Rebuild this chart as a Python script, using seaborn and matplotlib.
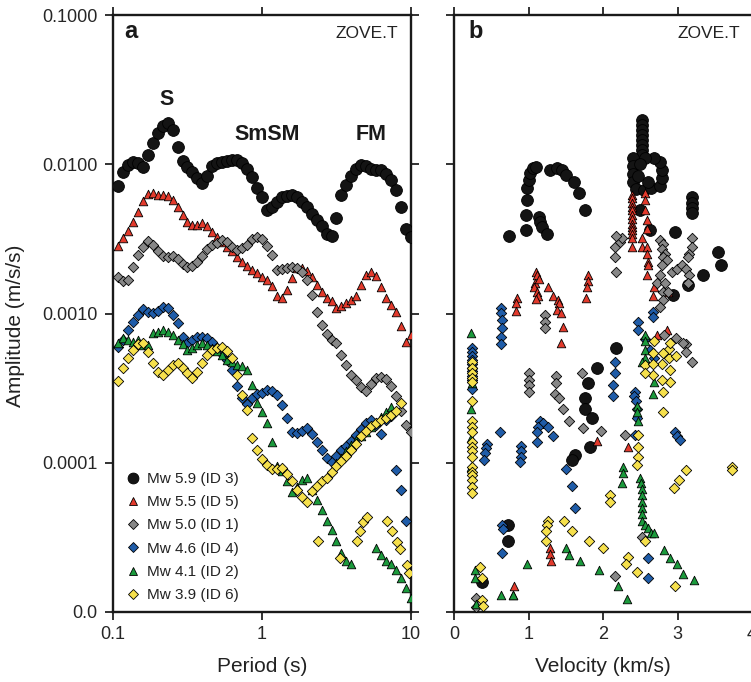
import numpy as np
import pandas as pd
import matplotlib
matplotlib.use("Agg")
import matplotlib.pyplot as plt
from matplotlib.lines import Line2D
from matplotlib.ticker import NullLocator
import seaborn as sns

nan = np.nan

# ---------------------------------------------------------------------------
# Panel a: peak amplitude against filter period (s), station ZOVE.T
# ---------------------------------------------------------------------------
period_s = [0.108, 0.117, 0.126, 0.136, 0.147, 0.158, 0.171, 0.185, 0.200, 0.215,
            0.233, 0.251, 0.271, 0.293, 0.316, 0.341, 0.369, 0.398, 0.430, 0.464,
            0.501, 0.541, 0.585, 0.631, 0.681, 0.736, 0.794, 0.858, 0.926, 1.00,
            1.08, 1.17, 1.26, 1.36, 1.47, 1.58, 1.71, 1.85, 2.00, 2.15,
            2.33, 2.51, 2.71, 2.93, 3.16, 3.41, 3.69, 3.98, 4.30, 4.64,
            5.01, 5.41, 5.85, 6.31, 6.81, 7.36, 7.94, 8.58, 9.26, 10.0]

amp_mw59 = [0.00713, 0.00888, 0.0099, 0.0104, 0.0102, 0.0096, 0.0116, 0.0139, 0.0162, 0.0181,
            0.0189, 0.0170, 0.0131, 0.0105, 0.0096, 0.00888, 0.0081, 0.0075, 0.00835, 0.00974,
            0.0102, 0.0104, 0.0105, 0.0107, 0.0107, 0.0102, 0.0093, 0.0082, 0.0069, 0.0060,
            0.0049, 0.0052, 0.0056, 0.0060, 0.0061, 0.0062, 0.0060, 0.0056, 0.0052, 0.00465,
            0.00424, 0.00386, 0.00342, 0.00331, 0.00437, 0.0062, 0.00727, 0.00835, 0.0093, 0.0099,
            0.0097, 0.0093, 0.0092, 0.0092, 0.0086, 0.00785, 0.0067, 0.0052, 0.00369, 0.00326]

amp_mw55 = [0.00284, 0.00321, 0.00357, 0.0041, 0.00479, 0.00568, 0.00633, 0.00642, 0.0062, 0.0062,
            0.0061, 0.00577, 0.0052, 0.00457, 0.0041, 0.00392, 0.00392, 0.00404, 0.00386, 0.00352,
            0.00326, 0.00302, 0.0028, 0.00262, 0.0024, 0.00222, 0.00208, 0.00196, 0.00187, 0.00176,
            0.00168, 0.00153, 0.00131, 0.00127, 0.00144, 0.00173, 0.00202, 0.00202, 0.00193, 0.00176,
            0.00155, 0.0014, 0.00127, 0.00122, 0.00109, 0.00112, 0.00118, 0.00124, 0.00131, 0.00155,
            0.00181, 0.0019, 0.00179, 0.00151, 0.00127, 0.00114, 0.00103, 0.000826, 0.000645, 0.000719]

amp_mw50 = [0.00176, 0.00165, 0.00168, 0.00205, 0.00247, 0.0028, 0.00306, 0.00288, 0.00262, 0.00243,
            0.0024, 0.00243, 0.00232, 0.00215, 0.00205, 0.00208, 0.00222, 0.00243, 0.00271, 0.00288,
            0.00297, 0.00311, 0.00302, 0.0028, 0.00267, 0.00275, 0.00288, 0.00316, 0.00326, 0.00316,
            0.00284, 0.00247, 0.00196, 0.00199, 0.00202, 0.00205, 0.00202, 0.0019, 0.00168, 0.00133,
            0.00103, 0.00084, 0.00073, 0.000666, 0.000635, 0.000528, 0.000452, 0.000388, 0.000359, 0.000322,
            0.000303, 0.000338, 0.00037, 0.000376, 0.000365, 0.000327, 0.000281, 0.000223, 0.000179, 0.000161]

amp_mw46 = [0.000597, 0.000666, 0.000777, 0.000879, 0.000979, 0.00108, 0.00103, 0.00101, 0.00104, 0.00111,
            0.00109, 0.000979, 0.000865, 0.000697, 0.000635, 0.000666, 0.000697, 0.000697, 0.000686, 0.000645,
            0.000588, 0.000536, 0.000489, 0.000419, 0.000327, 0.000272, 0.000248, 0.000272, 0.00029, 0.000294,
            0.000308, 0.000303, 0.000285, 0.000244, 0.0002, 0.000161, 0.000159, 0.000164, 0.000171, 0.000156,
            0.000138, 0.000122, 0.000108, 0.000101, 0.000111, 0.000122, 0.00013, 0.00014, 0.000154, 0.000169,
            0.000185, 0.000194, 0.000179, 0.000156, 0.000194, 0.000206, 8.96e-5, 6.6e-5, 4.1e-5, nan]

amp_mw41 = [0.000635, 0.000686, 0.000666, 0.000645, 0.000666, 0.000616, 0.000616, 0.000741, 0.000753, 0.000777,
            0.000753, 0.000719, 0.000666, 0.000626, 0.00057, 0.000588, 0.000616, 0.000635, 0.000616, 0.000588,
            0.000562, 0.000528, 0.000489, 0.000474, 0.000452, 0.000445, 0.000419, 0.000332, 0.000252, 0.000219,
            0.000185, 0.000138, 9.5e-5, 8.8e-5, 7.5e-5, 6.4e-5, 6.9e-5, 7.7e-5, 7.9e-5, 6.6e-5,
            5.6e-5, 4.8e-5, 4.1e-5, 3.55e-5, 3.0e-5, 2.5e-5, 2.2e-5, 2.1e-5, nan, nan,
            nan, nan, 2.7e-5, 2.4e-5, 2.2e-5, 2.1e-5, 1.9e-5, 1.7e-5, 1.45e-5, 1.25e-5]

amp_mw39 = [0.000354, 0.000432, 0.000504, 0.00057, 0.000626, 0.000635, 0.000553, 0.000467, 0.000406, 0.000388,
            0.000419, 0.000452, 0.000467, 0.000432, 0.0004, 0.00037, 0.000406, 0.000467, 0.000528, 0.00057,
            0.000588, 0.000597, 0.000562, 0.000504, 0.000388, 0.000285, 0.000226, 0.000147, 0.000122, 0.000106,
            9.7e-5, 9.1e-5, 9.1e-5, 9.2e-5, 8.4e-5, 7.5e-5, 6.6e-5, 5.9e-5, 5.5e-5, 6.5e-5,
            7.0e-5, 7.5e-5, 7.9e-5, 8.7e-5, 9.5e-5, 0.000103, 0.000111, 0.000122, 0.000134, 0.000152,
            0.000164, 0.000177, 0.000185, 0.000194, 0.0002, 0.000209, 0.000223, 0.000252, nan, nan]

# second branches at long periods
mw41_extra_period = [3.16, 3.41, 3.69, 3.98, 4.30, 4.64, 5.01, 5.41, 5.85, 6.31, 6.81, 7.36]
mw41_extra_amp = [0.0001, 0.000108, 0.000119, 0.000132, 0.000142, 0.000152,
                  0.000161, 0.000174, 0.000188, 0.000203, 0.000219, 0.000237]
mw39_extra_period = [2.38, 3.34, 4.34, 4.55, 4.76, 5.07, 6.90, 7.45, 8.05, 8.44, 9.40, 9.70]
mw39_extra_amp = [3.0e-5, 2.3e-5, 3.0e-5, 3.5e-5, 4.0e-5, 4.3e-5,
                  4.1e-5, 3.5e-5, 2.95e-5, 2.65e-5, 2.07e-5, 1.83e-5]

# ---------------------------------------------------------------------------
# Panel b: peak amplitude against group velocity (km/s)
# ---------------------------------------------------------------------------
vel_b_mw59 = [2.53, 2.53, 2.53, 2.53, 2.53, 2.53, 2.53, 2.53,
              2.40, 2.40, 2.40, 2.40, 2.44, 2.55, 2.65, 2.76, 2.79, 2.79, 2.76, 2.68, 2.57, 2.49, 2.60, 2.47,
              2.49, 2.63, 2.96, 3.19, 3.19, 3.19, 3.19, 3.54, 3.59, 3.34, 3.14, 2.94,
              2.18, 1.92, 1.80, 1.76, 1.76, 1.85, 1.82, 1.62, 1.58, 0.72, 0.72, 0.375,
              0.74, 0.97, 0.97, 0.98, 0.98, 1.01, 1.02, 1.06, 1.10, 1.14, 1.15, 1.18, 1.25, 1.29, 1.38, 1.45,
              1.51, 1.61, 1.68, 1.76]
amp_b_mw59 = [0.0198, 0.0183, 0.0170, 0.0157, 0.0146, 0.0135, 0.0125, 0.0116,
              0.0110, 0.0097, 0.0086, 0.0076, 0.0068, 0.0067, 0.0069, 0.0072, 0.0081, 0.0092, 0.0104, 0.0110,
              0.0110, 0.0100, 0.0076, 0.0083,
              0.0049, 0.0036, 0.0035, 0.0060, 0.0055, 0.0051, 0.0047, 0.0026, 0.0021, 0.0018, 0.00155, 0.00133,
              0.00059, 0.00043, 0.00034, 0.00027, 0.00023, 0.00020, 0.000128, 0.000112, 0.000104, 3.8e-5, 3.0e-5,
              1.6e-5,
              0.0033, 0.0036, 0.0046, 0.0058, 0.0069, 0.0079, 0.0088, 0.0094, 0.0096, 0.0044, 0.0041, 0.0038,
              0.0034, 0.0092, 0.0094, 0.0092, 0.0085, 0.0076, 0.0064, 0.0049]

vel_b_mw55 = [2.39, 2.39, 2.39, 2.39, 2.39, 2.39, 2.39, 2.39, 2.39, 2.39, 2.39, 2.39, 2.39,
              2.56, 2.57, 2.57, 2.59, 2.59, 2.52, 2.53, 2.59, 2.59, 2.60, 2.60, 2.59, 2.67, 2.69, 2.87,
              1.10, 1.11, 1.09, 1.14, 1.07, 1.11, 1.13, 1.10, 1.26, 1.33, 1.39, 1.41, 1.38, 1.43, 1.46, 1.43,
              0.84, 0.83, 0.83, 1.80, 1.80, 1.78, 1.77,
              1.92, 2.33, 1.29, 1.29, 1.30, 0.80, 0.79, 2.72, 2.86]
amp_b_mw55 = [0.0062, 0.0059, 0.0055, 0.0052, 0.0049, 0.0046, 0.0043, 0.0040, 0.0038, 0.0036, 0.0034, 0.0032,
              0.0028,
              0.0064, 0.0058, 0.0049, 0.0042, 0.0037, 0.0032, 0.0028, 0.0028, 0.0025, 0.0022, 0.0021, 0.0018,
              0.0013, 0.0015, 0.0014,
              0.0019, 0.0018, 0.0016, 0.0017, 0.0015, 0.0014, 0.0013, 0.00125, 0.0015, 0.0013, 0.00124, 0.00118,
              0.00106, 0.00101, 0.00081, 0.00063,
              0.00127, 0.00118, 0.00104, 0.0018, 0.00165, 0.0015, 0.00127,
              0.00014, 0.000128, 2.7e-5, 2.45e-5, 2.2e-5, 1.5e-5, 1.3e-5, 0.00072, 0.00078]

vel_b_mw50 = [2.16, 2.23, 2.25, 2.18, 2.16, 2.17,
              2.76, 2.80, 2.79, 2.83, 2.80, 2.86, 2.79, 2.76, 2.72, 2.83, 2.80, 2.87, 2.80, 2.76,
              2.92, 2.99, 3.06, 3.12, 3.16, 3.14, 3.19, 3.19, 3.15, 3.14,
              1.22, 1.22, 1.22,
              1.01, 1.01, 1.01, 1.01, 1.37, 1.37, 1.35, 1.41, 1.46, 1.55, 1.73, 1.97, 1.72, 2.29, 2.52, 2.16,
              0.29, 0.29, 2.98, 3.11, 3.20, 2.82, 3.07, 3.11]
amp_b_mw50 = [0.0028, 0.0030, 0.0032, 0.0033, 0.0024, 0.0019,
              0.0031, 0.0029, 0.0027, 0.0025, 0.0024, 0.0023, 0.0021, 0.0018, 0.0016, 0.0016, 0.0014, 0.0014,
              0.00124, 0.0011,
              0.0019, 0.0020, 0.0021, 0.0020, 0.0018, 0.0016, 0.0032, 0.0028, 0.0025, 0.0024,
              0.00098, 0.00088, 0.0008,
              0.0004, 0.00036, 0.00033, 0.0003, 0.00038, 0.00034, 0.00029, 0.00027, 0.00023, 0.00019, 0.00017,
              0.000164, 0.0004, 0.000154, 3.2e-5, 1.75e-5,
              1.25e-5, 1.08e-5, 0.00068, 0.00062, 0.00047, 0.00072, 0.00063, 0.00055]

vel_b_mw46 = [0.63, 0.63, 0.64, 0.64, 0.63, 0.63,
              0.24, 0.24, 0.24, 0.24, 0.24, 0.24, 0.24, 0.24, 0.24, 0.24,
              0.62, 0.44, 0.43, 0.42, 0.40, 0.90, 0.90, 0.90, 0.88, 1.15, 1.19, 1.13, 1.26, 1.11, 1.33, 1.11,
              1.51, 1.58, 1.62, 0.64, 0.66, 0.64,
              2.16, 2.16, 2.13, 2.13, 2.43, 2.41, 2.44, 2.45, 2.45, 2.43, 2.96, 2.99, 3.03, 2.60, 2.60,
              2.67, 2.67, 2.47, 2.47, 2.56, 2.63, 2.69]
amp_b_mw46 = [0.00109, 0.00101, 0.00091, 0.0008, 0.0007, 0.00062,
              0.00059, 0.00055, 0.00052, 0.00049, 0.00046, 0.00043, 0.00041, 0.00038, 0.00036, 0.00031,
              0.00016, 0.000134, 0.000126, 0.000117, 0.000104, 0.00013, 0.000119, 0.00011, 0.000101, 0.00019,
              0.000185, 0.000174, 0.000174, 0.00016, 0.000152, 0.000138, 9.1e-5, 7.0e-5, 5.0e-5, 3.8e-5,
              3.6e-5, 2.5e-5,
              0.00047, 0.0004, 0.00033, 0.00028, 0.0003, 0.00028, 0.00026, 0.00023, 0.0002, 0.000154, 0.00016,
              0.00015, 0.000142, 2.3e-5, 1.7e-5,
              0.00102, 0.00095, 0.00088, 0.00078, 0.00067, 0.00057, 0.0005]

vel_b_mw41 = [0.23, 0.24, 0.23, 0.23, 0.23,
              2.27, 2.27, 2.25,
              2.49, 2.51, 2.52, 2.52, 2.52, 2.52, 2.52, 2.53, 2.56, 2.60, 2.65, 2.69,
              0.98, 1.50, 1.55, 1.69, 1.94, 2.20, 2.32, 2.82, 2.90, 2.99, 3.08, 3.22, 0.28, 0.28, 0.29, 0.63,
              0.79,
              2.67, 2.45, 2.45, 2.47,
              2.56, 2.56, 2.56, 2.56, 2.53, 2.69]
amp_b_mw41 = [0.00074, 0.00034, 0.00023, 0.000147, 9.4e-5,
              9.4e-5, 8.6e-5, 7.3e-5,
              7.9e-5, 7.3e-5, 6.7e-5, 6.1e-5, 5.5e-5, 5.0e-5, 4.55e-5, 4.1e-5, 3.8e-5, 3.65e-5, 3.4e-5, 3.4e-5,
              2.1e-5, 2.7e-5, 2.4e-5, 2.2e-5, 1.9e-5, 1.5e-5, 1.23e-5, 2.6e-5, 2.3e-5, 2.1e-5, 1.8e-5, 1.65e-5,
              1.9e-5, 1.68e-5, 1.13e-5, 1.3e-5, 1.3e-5,
              0.00029, 0.00024, 0.00022, 0.00019,
              0.00072, 0.00065, 0.00057, 0.0005, 0.00047, 0.00035]

vel_b_mw39 = [0.24, 0.24, 0.24, 0.24, 0.24, 0.24, 0.24, 0.24, 0.24, 0.24,
              0.24, 0.24, 0.24, 0.24, 0.24, 0.24, 0.24, 0.24, 0.24,
              0.35, 0.375, 0.375, 0.39,
              1.26, 1.25, 1.23, 1.23, 1.47, 1.58, 1.81, 2.00, 2.09, 2.09, 2.33, 2.31, 2.45, 2.57, 2.96,
              2.47, 2.47, 2.47, 2.45,
              3.11, 3.02, 2.95, 3.73, 3.73,
              2.80, 2.80, 2.90, 2.79, 2.56, 2.67, 2.90, 2.88, 2.88, 2.79, 2.67, 2.56, 2.80, 2.90, 2.67, 2.98,
              2.69]
amp_b_mw39 = [0.00047, 0.00043, 0.0004, 0.00037, 0.00035, 0.00026, 0.00019, 0.000174, 0.00016, 0.000138,
              0.000128, 0.000119, 0.00011, 9.4e-5, 8.7e-5, 8.3e-5, 7.7e-5, 6.9e-5, 6.3e-5,
              2.0e-5, 1.7e-5, 1.2e-5, 1.1e-5,
              4.1e-5, 3.8e-5, 3.5e-5, 3.0e-5, 4.1e-5, 3.5e-5, 3.0e-5, 2.7e-5, 6.1e-5, 5.5e-5, 2.35e-5, 2.1e-5,
              1.85e-5, 3.0e-5, 1.5e-5,
              0.000154, 0.000128, 0.00011, 9.7e-5,
              9.0e-5, 7.7e-5, 6.8e-5, 9.4e-5, 9.0e-5,
              0.0003, 0.00022, 0.00035, 0.00036, 0.00045, 0.00039, 0.00042, 0.0005, 0.00058, 0.00046, 0.00046,
              0.0004, 0.00054, 0.00063, 0.00054, 0.00052, 0.00065]

event_labels = ["Mw 5.9 (ID 3)", "Mw 5.5 (ID 5)", "Mw 5.0 (ID 1)",
                "Mw 4.6 (ID 4)", "Mw 4.1 (ID 2)", "Mw 3.9 (ID 6)"]
y_tick_values = [1e-5, 1e-4, 1e-3, 1e-2, 1e-1]
y_tick_labels = ["0.0", "0.0001", "0.0010", "0.0100", "0.1000"]

# ---------------------------------------------------------------------------
# per-event records
# ---------------------------------------------------------------------------
panel_a = [
    (period_s, amp_mw59),
    (period_s, amp_mw55),
    (period_s, amp_mw50),
    (period_s, amp_mw46),
    (period_s + mw41_extra_period, amp_mw41 + mw41_extra_amp),
    (period_s + mw39_extra_period, amp_mw39 + mw39_extra_amp),
]
panel_b = [
    (vel_b_mw59, amp_b_mw59),
    (vel_b_mw55, amp_b_mw55),
    (vel_b_mw50, amp_b_mw50),
    (vel_b_mw46, amp_b_mw46),
    (vel_b_mw41, amp_b_mw41),
    (vel_b_mw39, amp_b_mw39),
]

# marker, fill colour, scatter size
styles = [
    ("o", "#141414", 72),
    ("^", "#e23a2c", 38),
    ("D", "#878787", 28),
    ("D", "#1f5ca8", 28),
    ("^", "#1b9a3c", 38),
    ("D", "#f6e04c", 28),
]

sns.set_style("ticks")
plt.rcParams["font.family"] = ["Liberation Sans", "DejaVu Sans"]

W, H = 751, 682
fig = plt.figure(figsize=(W / 100, H / 100), dpi=100)
ax_a = fig.add_axes([113 / W, 1 - 612 / H, 298 / W, 597 / H])
ax_b = fig.add_axes([454 / W, 1 - 612 / H, 298 / W, 597 / H])


def draw(ax, records):
    for i, ((xs, ys), (mk, col, s)) in enumerate(zip(records, styles)):
        df = pd.DataFrame({"x": xs, "y": ys}).dropna()
        sns.scatterplot(data=df, x="x", y="y", ax=ax, marker=mk, color=col, s=s,
                        edgecolor="black", linewidth=0.6, legend=False, zorder=3 + i)


draw(ax_a, panel_a)
draw(ax_b, panel_b)

for ax in (ax_a, ax_b):
    ax.set_yscale("log")
    ax.set_ylim(1e-5, 1e-1)
    ax.set_yticks(y_tick_values)
    ax.yaxis.set_minor_locator(NullLocator())
    ax.tick_params(axis="both", which="major", direction="out", length=6, width=1.3,
                   top=True, right=True, labelsize=13, pad=4, color="#222222")
    ax.tick_params(axis="y", pad=5)
    for sp in ax.spines.values():
        sp.set_linewidth(1.7)
        sp.set_color("#1a1a1a")
        sp.set_visible(True)

ax_a.set_xscale("log")
ax_a.set_xlim(0.1, 10)
ax_a.set_xticks([0.1, 1, 10])
ax_a.set_xticklabels(["0.1", "1", "10"])
ax_a.xaxis.set_minor_locator(NullLocator())
ax_a.set_yticklabels(y_tick_labels)

ax_b.set_xlim(0, 4)
ax_b.set_xticks([0, 1, 2, 3, 4])
ax_b.set_xticklabels(["0", "1", "2", "3", "4"])
ax_b.tick_params(axis="y", labelleft=False)

ax_a.set_xlabel("Period (s)", fontsize=15, color="#222222")
ax_b.set_xlabel("Velocity (km/s)", fontsize=15, color="#222222")
ax_a.xaxis.set_label_coords(0.5, -0.075)
ax_b.xaxis.set_label_coords(0.5, -0.075)
ax_a.set_ylabel("Amplitude (m/s/s)", fontsize=15, color="#222222")
ax_a.yaxis.set_label_coords(-0.295, 0.48)
ax_b.set_ylabel("")

# panel tags and station name
ax_a.text(0.037, 0.961, "a", transform=ax_a.transAxes, fontsize=17, fontweight="bold",
          ha="left", va="baseline", color="#1a1a1a")
ax_b.text(0.047, 0.961, "b", transform=ax_b.transAxes, fontsize=17, fontweight="bold",
          ha="left", va="baseline", color="#1a1a1a")
ax_a.text(0.956, 0.961, "ZOVE.T", transform=ax_a.transAxes, fontsize=12.5,
          ha="right", va="baseline", color="#222222")
ax_b.text(0.960, 0.961, "ZOVE.T", transform=ax_b.transAxes, fontsize=12.5,
          ha="right", va="baseline", color="#222222")

# phase names
ax_a.text(0.230, 0.0249, "S", fontsize=15.5, fontweight="bold", ha="center", va="baseline",
          color="#1a1a1a")
ax_a.text(1.08, 0.01456, "SmSM", fontsize=15.5, fontweight="bold", ha="center", va="baseline",
          color="#1a1a1a")
ax_a.text(5.39, 0.01456, "FM", fontsize=15.5, fontweight="bold", ha="center", va="baseline",
          color="#1a1a1a")

# legend
handles = [Line2D([], [], linestyle="", marker=mk, markerfacecolor=col, markeredgecolor="black",
                  markeredgewidth=0.6, markersize=np.sqrt(s) * 0.92)
           for (mk, col, s) in styles]
leg = ax_a.legend(handles, event_labels, loc="lower left", bbox_to_anchor=(0.04, 0.016),
                  frameon=False, fontsize=11, handlelength=1.0, handletextpad=0.45,
                  labelspacing=0.61, borderpad=0, borderaxespad=0)
for t in leg.get_texts():
    t.set_color("#222222")

fig.savefig("out.png", dpi=100)
